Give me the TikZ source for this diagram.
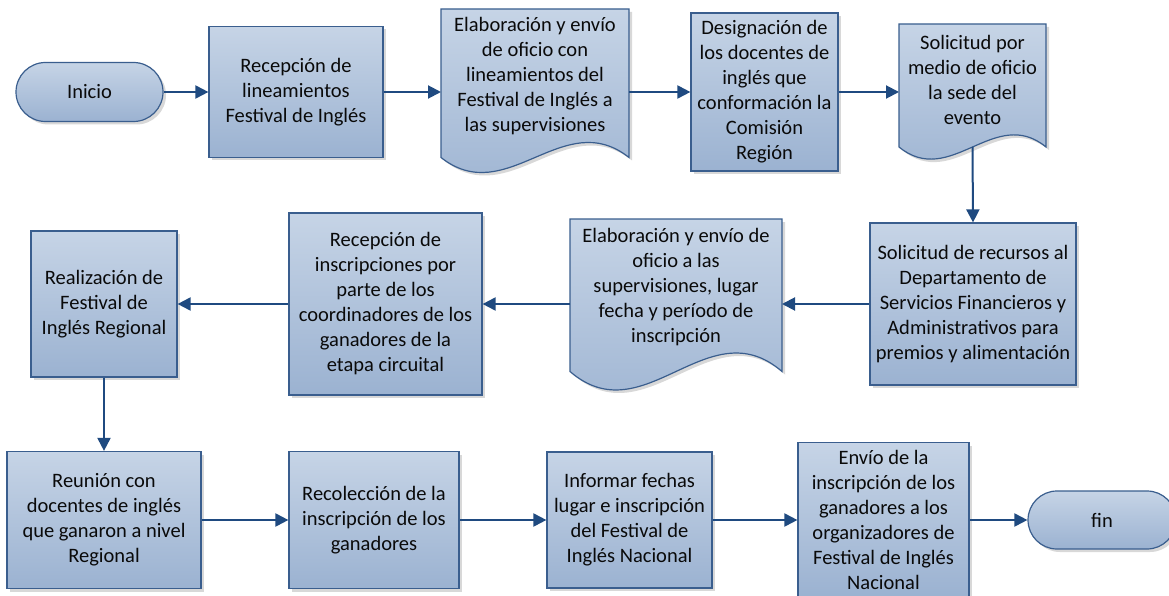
\documentclass[tikz,border=0pt]{standalone}
\usepackage{fontspec}
\setmainfont{Carlito}
\usetikzlibrary{arrows.meta,shadows,shapes.misc}
\definecolor{boxtop}{RGB}{198,212,230}
\definecolor{boxbot}{RGB}{155,178,209}
\definecolor{boxline}{RGB}{58,94,142}
\definecolor{arrcol}{RGB}{31,74,128}
\definecolor{txtcol}{RGB}{10,10,10}
\newcommand\flowfont{\fontsize{20.5}{25}\selectfont}
\tikzset{
  shadebox/.style={top color=boxtop, bottom color=boxbot, draw=boxline, line width=1.2pt,
    drop shadow={shadow xshift=3pt, shadow yshift=-3pt, fill=black!30}},
  procbox/.style={shadebox, rectangle, inner sep=0pt, align=center, font=\flowfont, text=txtcol},
  termbox/.style={shadebox, rounded rectangle, inner sep=0pt, align=center, font=\flowfont, text=txtcol},
  doctext/.style={align=center, font=\flowfont, text=txtcol, inner sep=0pt},
  docframe/.style={inner sep=0pt, outer sep=0pt},
  flow/.style={draw=arrcol, line width=2pt, -{Triangle[length=13pt,width=13pt]}},
}
% name, left, top, right, bottom, wave
\newcommand\DocShape[6]{%
  \path[shadebox] (#2,#3) -- (#4,#3) -- (#4,#5)
    .. controls ({#4-0.35*(#4-#2)},{#5-#6}) and ({#2+0.35*(#4-#2)},{#5+#6}) .. (#2,#5) -- cycle;
  \node[docframe, minimum width={#4-#2}, minimum height={#5-#3}] (#1) at ({(#2+#4)/2},{(#3+#5)/2}) {};
}
\begin{document}
\begin{tikzpicture}[x=1pt,y=-1pt]
\clip (0,0) rectangle (1169,596);
\fill[white] (0,0) rectangle (1169,596);

% Row 1
\node[termbox, minimum width=147, minimum height=59] (ini) at (89.5,92) {Inicio};
\node[procbox, minimum width=174, minimum height=131] (b1) at (296,92)
  {Recepción de\\lineamientos\\Festival de Inglés};
\DocShape{d1}{441}{9}{629}{157.5}{52}
\node[doctext] (d1t) at (535,76)
  {Elaboración y envío\\de oficio con\\lineamientos del\\Festival de Inglés a\\las supervisiones};
\node[procbox, minimum width=147, minimum height=158] (b2) at (764.5,92)
  {Designación de\\los docentes de\\inglés que\\conformación la\\Comisión\\Región};
\DocShape{d2}{899}{24}{1046}{147}{42}
\node[doctext] (d2t) at (972.5,80)
  {Solicitud por\\medio de oficio\\la sede del\\evento};

% Row 2
\node[procbox, minimum width=206, minimum height=162] (b3) at (973,304)
  {Solicitud de recursos al\\Departamento de\\Servicios Financieros y\\Administrativos para\\premios y alimentación};
\DocShape{d3}{570}{219}{782}{371.5}{64}
\node[doctext] (d3t) at (676,287)
  {Elaboración y envío de\\oficio a las\\supervisiones, lugar\\fecha y período de\\inscripción};
\node[procbox, minimum width=193, minimum height=182] (b4) at (385.5,304)
  {Recepción de\\inscripciones por\\parte de los\\coordinadores de los\\ganadores de la\\etapa circuital};
\node[procbox, minimum width=146, minimum height=146] (b5) at (104,304)
  {Realización de\\Festival de\\Inglés Regional};

% Row 3
\node[procbox, minimum width=194, minimum height=137] (b6) at (104,520)
  {Reunión con\\docentes de inglés\\que ganaron a nivel\\Regional};
\node[procbox, minimum width=170, minimum height=137] (b7) at (374,520)
  {Recolección de la\\inscripción de los\\ganadores};
\node[procbox, minimum width=165, minimum height=136] (b8) at (629.5,520)
  {Informar fechas\\lugar e inscripción\\del Festival de\\Inglés Nacional};
\node[procbox, minimum width=171, minimum height=155] (b9) at (883.5,520)
  {Envío de la\\inscripción de los\\ganadores a los\\organizadores de\\Festival de Inglés\\Nacional};
\node[termbox, minimum width=148, minimum height=58] (fin) at (1102,520) {fin};

% Connectors
\draw[flow] (ini.east) -- (b1.west);
\draw[flow] (b1.east) -- (b1.east -| d1.west);
\draw[flow] (b2.west -| d1.east) -- (b2.west);
\draw[flow] (b2.east) -- (b2.east -| d2.west);
\draw[flow] (d2.south) -- (b3.north);
\draw[flow] (b3.west) -- (b3.west -| d3.east);
\draw[flow] (b4.east -| d3.west) -- (b4.east);
\draw[flow] (b4.west) -- (b5.east);
\draw[flow] (b5.south) -- (b6.north);
\draw[flow] (b6.east) -- (b7.west);
\draw[flow] (b7.east) -- (b8.west);
\draw[flow] (b8.east) -- (b9.west);
\draw[flow] (b9.east) -- (fin.west);
\end{tikzpicture}
\end{document}
